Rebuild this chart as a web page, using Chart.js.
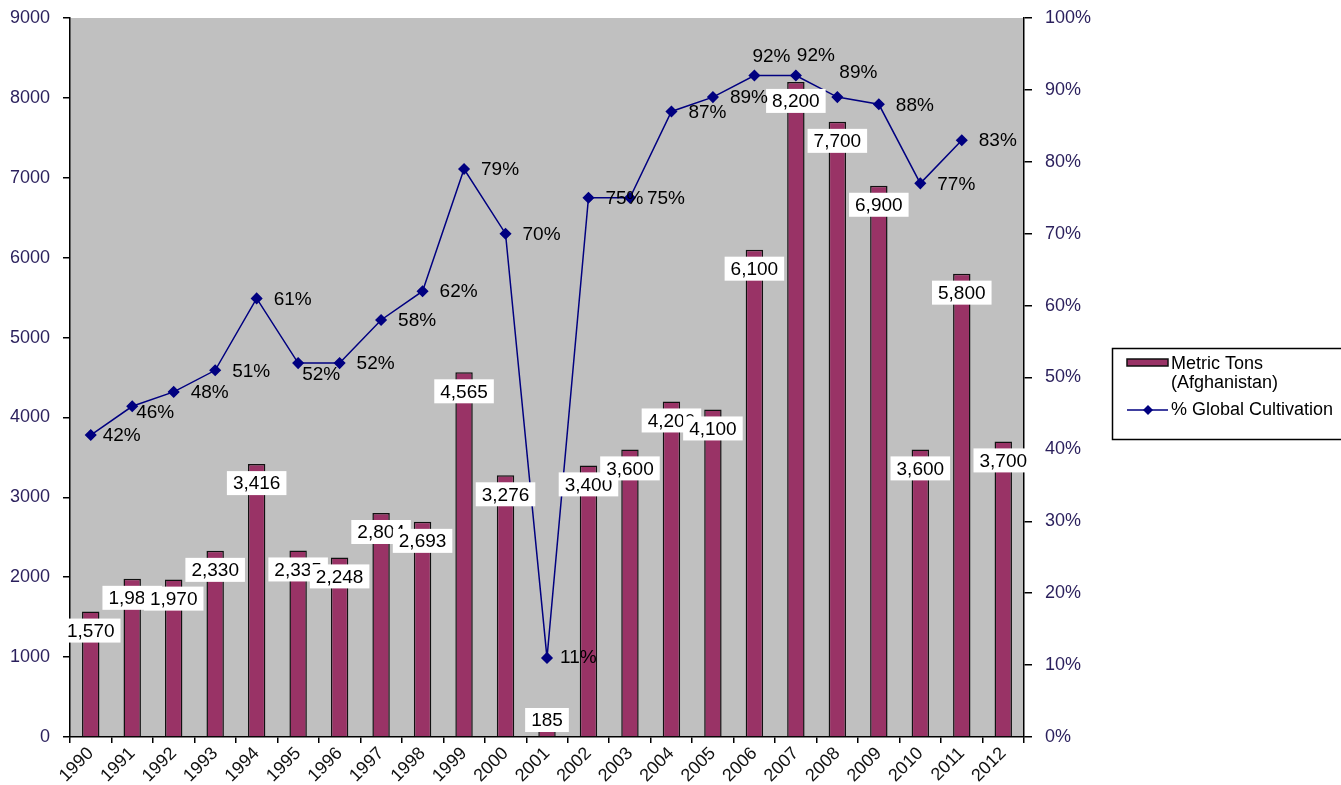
<!DOCTYPE html>
<html>
<head>
<meta charset="utf-8">
<script src="https://cdn.jsdelivr.net/npm/chart.js@4.4.1/dist/chart.umd.min.js"></script>
<style>
    body { margin: 0; background: #fff; }
</style>
</head>
<body>
<canvas id="opiumChart" width="1341" height="785"></canvas>
<script>
// Chart data
const years = ['1990', '1991', '1992', '1993', '1994', '1995', '1996', '1997', '1998', '1999', '2000', '2001',
    '2002', '2003', '2004', '2005', '2006', '2007', '2008', '2009', '2010', '2011', '2012'];
const metricTons = [1570, 1980, 1970, 2330, 3416, 2335, 2248, 2804, 2693, 4565, 3276, 185,
    3400, 3600, 4200, 4100, 6100, 8200, 7700, 6900, 3600, 5800, 3700];
const globalShare = [42, 46, 48, 51, 61, 52, 52, 58, 62, 79, 70, 11,
    75, 75, 87, 89, 92, 92, 89, 88, 77, 83, null];
const legendLines = [['Metric Tons', '(Afghanistan)'], ['% Global Cultivation']];

const BAR_COLOR = '#993366';
const LINE_COLOR = '#000080';
const FONT = "'Liberation Sans', Arial, sans-serif";

// Nudges for some % labels (default sits right of the marker)
const pctLabelNudge = {
    0: [12, 1], 1: [4, 7], 5: [4, 12], 11: [13, 0],
    16: [-2, -19], 17: [1, -20], 18: [2, -24]
};

// Grey plot area
const plotBackground = {
    id: 'plotBackground',
    beforeDraw(chart) {
        const { ctx, chartArea: a } = chart;
        ctx.save();
        ctx.fillStyle = '#c0c0c0';
        ctx.fillRect(a.left, a.top, a.right - a.left, a.bottom - a.top);
        ctx.restore();
    }
};

// Value labels for bars and line
const dataLabels = {
    id: 'dataLabels',
    afterDatasetsDraw(chart) {
        const ctx = chart.ctx;
        const base = chart.scales.y.getPixelForValue(0);
        ctx.save();
        ctx.font = '19px ' + FONT;
        ctx.textBaseline = 'middle';

        // bar labels in white boxes just inside the bar top
        ctx.textAlign = 'center';
        chart.getDatasetMeta(0).data.forEach((bar, i) => {
            const text = metricTons[i].toLocaleString('en-US');
            const w = ctx.measureText(text).width + 12;
            const h = 24;
            const cy = Math.min(bar.y + 19, base - 17);
            ctx.fillStyle = '#fff';
            ctx.fillRect(bar.x - w / 2, cy - h / 2, w, h);
            ctx.fillStyle = '#000';
            ctx.fillText(text, bar.x, cy + 1);
        });

        // percent labels
        ctx.textAlign = 'left';
        chart.getDatasetMeta(1).data.forEach((pt, i) => {
            if (globalShare[i] == null) return;
            const [dx, dy] = pctLabelNudge[i] || [17, 1];
            ctx.fillStyle = '#000';
            ctx.fillText(globalShare[i] + '%', pt.x + dx, pt.y + dy);
        });
        ctx.restore();
    }
};

// Boxed legend on the right
const boxLegend = {
    id: 'boxLegend',
    afterDraw(chart) {
        const ctx = chart.ctx;
        ctx.save();
        ctx.fillStyle = '#fff';
        ctx.fillRect(1112, 348, 240, 92);
        ctx.strokeStyle = '#000';
        ctx.lineWidth = 1.5;
        ctx.strokeRect(1112.5, 348.5, 240, 91);

        // bar swatch
        ctx.fillStyle = BAR_COLOR;
        ctx.fillRect(1127, 359, 41, 7);
        ctx.strokeStyle = '#111';
        ctx.strokeRect(1127, 359, 41, 7);

        // line swatch with diamond
        ctx.strokeStyle = LINE_COLOR;
        ctx.beginPath();
        ctx.moveTo(1127, 410);
        ctx.lineTo(1168, 410);
        ctx.stroke();
        ctx.fillStyle = LINE_COLOR;
        ctx.beginPath();
        ctx.moveTo(1148, 405);
        ctx.lineTo(1153, 410);
        ctx.lineTo(1148, 415);
        ctx.lineTo(1143, 410);
        ctx.closePath();
        ctx.fill();

        ctx.font = '18px ' + FONT;
        ctx.fillStyle = '#000';
        ctx.textBaseline = 'middle';
        ctx.textAlign = 'left';
        ctx.fillText(legendLines[0][0], 1171, 364);
        ctx.fillText(legendLines[0][1], 1171, 383);
        ctx.fillText(legendLines[1][0], 1171, 410);
        ctx.restore();
    }
};

const tickFont = { family: FONT, size: 18 };

new Chart(document.getElementById('opiumChart').getContext('2d'), {
    type: 'bar',
    data: {
        labels: years,
        datasets: [{
            label: 'Metric Tons (Afghanistan)',
            data: metricTons,
            backgroundColor: BAR_COLOR,
            borderColor: '#111',
            borderWidth: 1.5,
            barPercentage: 0.42,
            categoryPercentage: 1,
            yAxisID: 'y',
            order: 2
        }, {
            type: 'line',
            label: '% Global Cultivation',
            data: globalShare,
            borderColor: LINE_COLOR,
            backgroundColor: LINE_COLOR,
            borderWidth: 1.5,
            pointStyle: 'rectRot',
            pointRadius: 5,
            tension: 0,
            yAxisID: 'y1',
            order: 1
        }]
    },
    options: {
        responsive: false,
        animation: false,
        layout: { padding: { top: 18, left: 0, right: 0, bottom: 0 } },
        plugins: {
            legend: { display: false },
            tooltip: { enabled: false }
        },
        scales: {
            x: {
                offset: true,
                grid: { offset: true, drawOnChartArea: false, color: '#000', tickLength: 6, lineWidth: 1.5 },
                border: { color: '#000', width: 1.5 },
                ticks: {
                    font: tickFont, color: '#111', minRotation: 45, maxRotation: 45,
                    autoSkip: false, padding: 0
                },
                afterFit(scale) { scale.height = 48; scale.paddingLeft = 0; scale.paddingRight = 0; }
            },
            y: {
                position: 'left',
                min: 0,
                max: 9000,
                ticks: {
                    stepSize: 1000, font: tickFont, color: '#2a1f5c', padding: 13,
                    callback: (v) => String(v)
                },
                grid: { drawOnChartArea: false, color: '#000', tickLength: 7, lineWidth: 1.5 },
                border: { color: '#000', width: 1.5 },
                afterFit(scale) { scale.width = 70; scale.paddingTop = 0; scale.paddingBottom = 0; }
            },
            y1: {
                position: 'right',
                min: 0,
                max: 100,
                ticks: {
                    stepSize: 10, font: tickFont, color: '#2a1f5c', padding: 13,
                    callback: (v) => v + '%'
                },
                grid: { drawOnChartArea: false, color: '#000', tickLength: 8, lineWidth: 1.5 },
                border: { color: '#000', width: 1.5 },
                afterFit(scale) { scale.width = 317; scale.paddingTop = 0; scale.paddingBottom = 0; }
            }
        }
    },
    plugins: [plotBackground, dataLabels, boxLegend]
});
</script>
</body>
</html>
